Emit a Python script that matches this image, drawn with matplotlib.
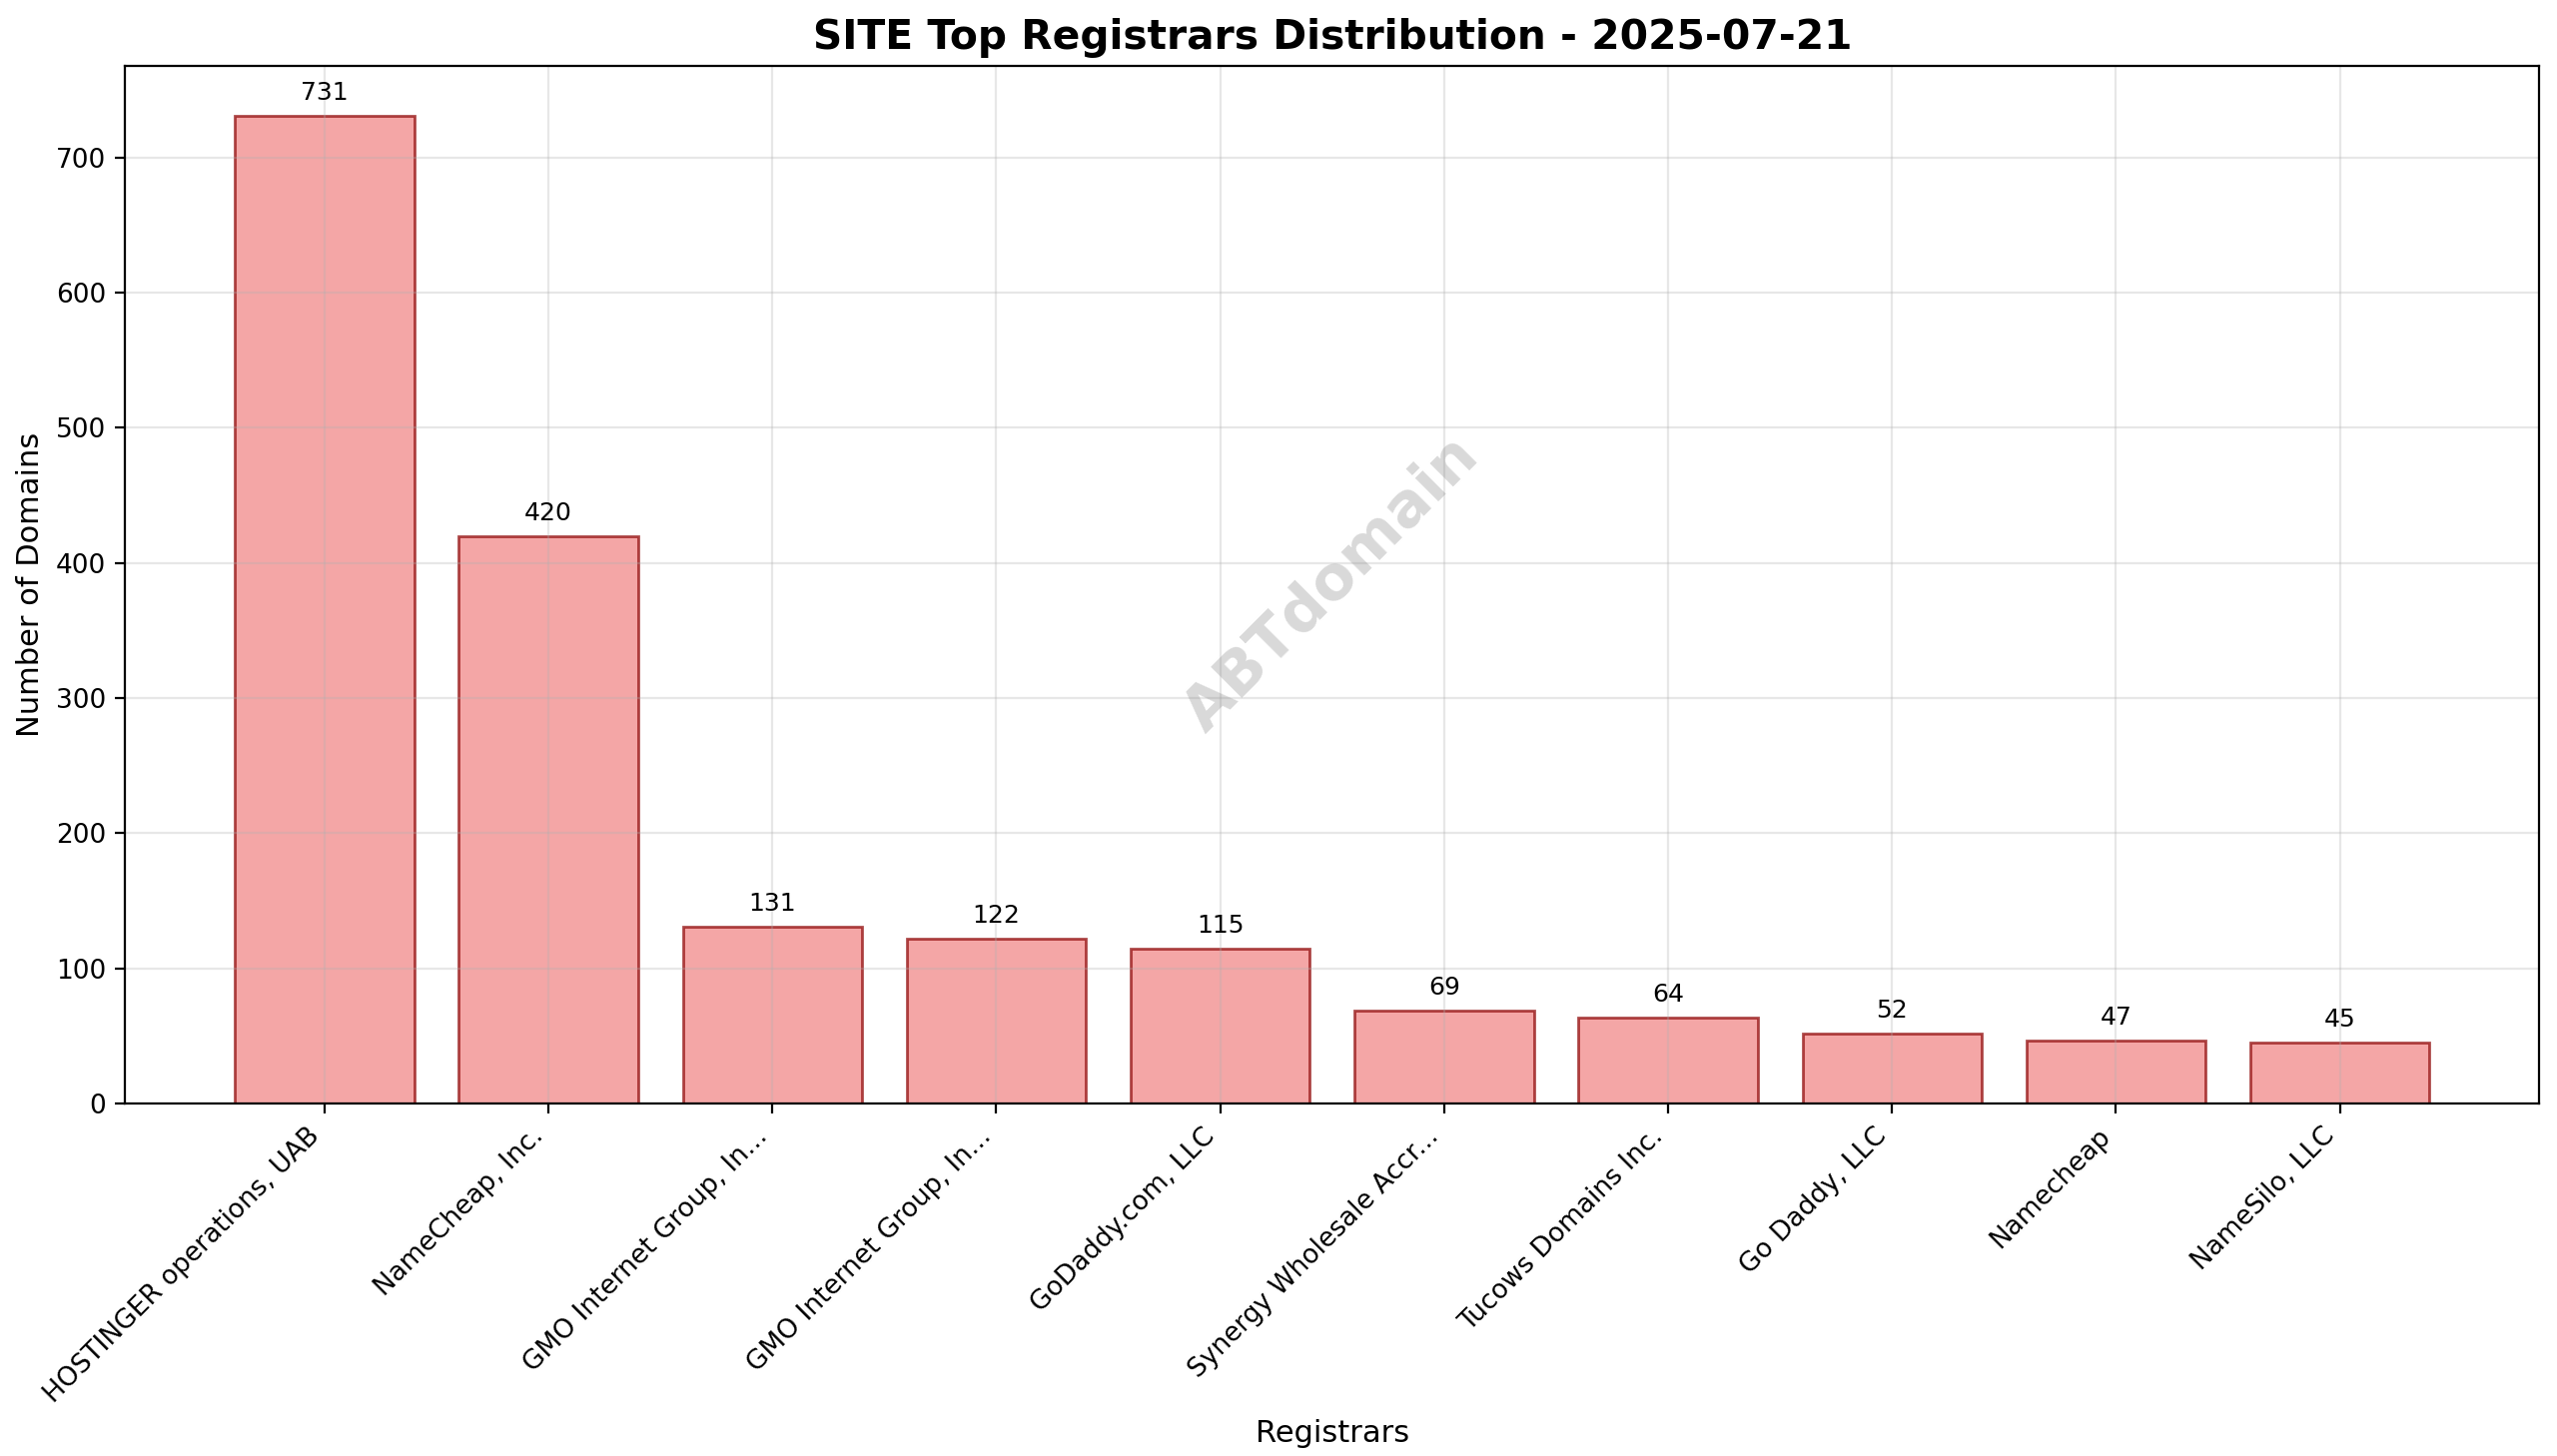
import matplotlib
matplotlib.use("Agg")
import matplotlib.pyplot as plt

registrars = ["HOSTINGER operations, UAB", "NameCheap, Inc.", "GMO Internet Group, In...",
              "GMO Internet Group, In...", "GoDaddy.com, LLC", "Synergy Wholesale Accr...",
              "Tucows Domains Inc.", "Go Daddy, LLC", "Namecheap", "NameSilo, LLC"]
counts = [731, 420, 131, 122, 115, 69, 64, 52, 47, 45]

fig, ax = plt.subplots(figsize=(12.8, 7.29), dpi=200)
x = list(range(len(registrars)))
ax.bar(x, counts, color="lightcoral", alpha=0.7, edgecolor="darkred", linewidth=1)
for xi, c in zip(x, counts):
    ax.text(xi, c + 8, str(c), ha="center", va="bottom", fontsize=9)
ax.set_xticks(x)
ax.set_xticklabels(registrars, rotation=45, ha="right", fontsize=9.5)
ax.tick_params(axis="y", labelsize=9.5)
ax.set_ylim(0, 768)
ax.set_xlabel("Registrars", fontsize=11)
ax.set_ylabel("Number of Domains", fontsize=11)
ax.set_title("SITE Top Registrars Distribution - 2025-07-21", fontsize=14.7, fontweight="bold")
ax.grid(True, alpha=0.3)
ax.text(0.5, 0.5, "ABTdomain", transform=ax.transAxes, fontsize=22, color="gray",
        alpha=0.3, rotation=45, ha="center", va="center", fontweight="bold")
fig.subplots_adjust(left=0.049, right=0.993, top=0.955, bottom=0.242)
fig.savefig("out.png", dpi=200)
